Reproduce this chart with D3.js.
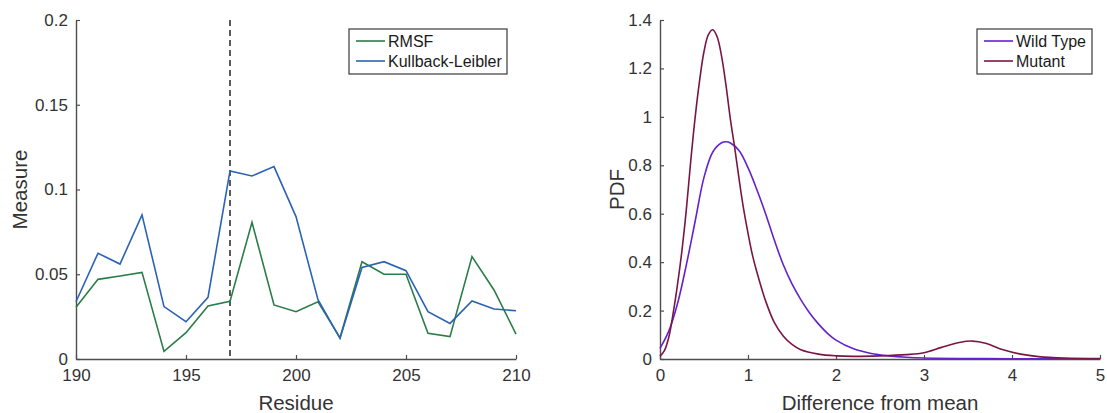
<!DOCTYPE html>
<html>
<head>
<meta charset="utf-8">
<script src="https://cdn.jsdelivr.net/npm/d3@7"></script>
<style>
  body { margin: 0; background: #fff; }
  svg text { font-family: Arial, "Liberation Sans", sans-serif; }
</style>
</head>
<body>
<div id="chart"></div>
<script>
// left panel: per-residue measures
var residues = d3.range(190, 211);
var rmsf = [0.0305, 0.047, 0.049, 0.0511, 0.0045, 0.0155, 0.0313, 0.034, 0.0806, 0.0319, 0.0279,
            0.0338, 0.0125, 0.0574, 0.050, 0.050, 0.0152, 0.0132, 0.0604, 0.0407, 0.0147];
var kullback = [0.0338, 0.0624, 0.056, 0.085, 0.0309, 0.022, 0.0364, 0.111, 0.108, 0.1135, 0.084,
                0.035, 0.0122, 0.054, 0.0574, 0.0521, 0.0279, 0.021, 0.0342, 0.0295, 0.0285];
var markedResidue = 197;
var leftYTicks = [0, 0.05, 0.1, 0.15, 0.2];
var leftXTicks = [190, 195, 200, 205, 210];

// right panel: PDFs of difference from mean
var wildX = [0, 0.1, 0.2, 0.3, 0.4, 0.5, 0.6, 0.7, 0.75, 0.8, 0.9, 1.0, 1.1, 1.2, 1.3, 1.4, 1.5,
             1.6, 1.7, 1.8, 1.9, 2.0, 2.2, 2.4, 2.6, 2.8, 3.0, 3.5, 4.0, 5.0];
var wildY = [0.044, 0.115, 0.23, 0.39, 0.57, 0.75, 0.855, 0.893, 0.897, 0.892, 0.86, 0.79, 0.70,
             0.60, 0.49, 0.39, 0.31, 0.245, 0.19, 0.145, 0.107, 0.078, 0.042, 0.023, 0.013, 0.007,
             0.004, 0.002, 0.001, 0];
var mutX = [0, 0.05, 0.1, 0.15, 0.2, 0.25, 0.3, 0.35, 0.4, 0.45, 0.5, 0.55, 0.6, 0.65, 0.7, 0.75,
            0.8, 0.85, 0.9, 0.95, 1.0, 1.05, 1.1, 1.2, 1.3, 1.4, 1.5, 1.6, 1.8, 2.0, 2.2, 2.5, 2.8,
            3.0, 3.2, 3.4, 3.55, 3.7, 3.9, 4.1, 4.3, 4.6, 5.0];
var mutY = [0.012, 0.035, 0.09, 0.19, 0.31, 0.45, 0.62, 0.82, 1.0, 1.15, 1.27, 1.34, 1.36, 1.33,
            1.25, 1.13, 0.99, 0.87, 0.74, 0.62, 0.52, 0.43, 0.36, 0.24, 0.15, 0.095, 0.06, 0.038,
            0.02, 0.013, 0.011, 0.013, 0.018, 0.026, 0.048, 0.068, 0.074, 0.065, 0.038, 0.02,
            0.01, 0.004, 0.002];
var rightYTicks = [0, 0.2, 0.4, 0.6, 0.8, 1, 1.2, 1.4];
var rightXTicks = [0, 1, 2, 3, 4, 5];

var axisColor = "#4d4d4d";
var textColor = "#333";

var svg = d3.select("#chart").append("svg")
  .attr("width", 1107)
  .attr("height", 413);

function drawAxes(g, x, y, xTicks, yTicks, xFmt, yFmt) {
  var x0 = x.range()[0];
  var y0 = y.range()[0];

  // ticks pointing inward like matlab
  var yAxis = d3.axisLeft(y).tickValues(yTicks).tickSizeInner(-4).tickSizeOuter(0).tickPadding(8).tickFormat(yFmt);
  var xAxis = d3.axisBottom(x).tickValues(xTicks).tickSizeInner(-4).tickSizeOuter(0).tickPadding(10).tickFormat(xFmt);

  var ya = g.append("g").attr("transform", "translate(" + x0 + ",0)").call(yAxis);
  var xa = g.append("g").attr("transform", "translate(0," + y0 + ")").call(xAxis);
  [ya, xa].forEach(function (a) {
    a.select(".domain").attr("stroke", axisColor).attr("stroke-width", 1.4);
    a.selectAll(".tick line").attr("stroke", axisColor).attr("stroke-width", 1.2);
    a.selectAll(".tick text").attr("fill", textColor).style("font-size", "17px");
  });
}

function drawLegend(g, x, y, w, items) {
  var box = g.append("g").attr("transform", "translate(" + x + "," + y + ")");
  box.append("rect")
    .attr("width", w).attr("height", 45)
    .attr("fill", "#fff").attr("stroke", "#3a3a3a").attr("stroke-width", 1.2);
  items.forEach(function (it, i) {
    var yy = 12 + i * 20;
    box.append("line")
      .attr("x1", 7).attr("x2", 36).attr("y1", yy).attr("y2", yy)
      .attr("stroke", it.color).attr("stroke-width", 1.6);
    box.append("text")
      .attr("x", 39).attr("y", yy).attr("dy", "0.36em")
      .attr("fill", "#1a1a1a").style("font-size", "16px")
      .text(it.label);
  });
}

// ---- left plot
var xL = d3.scaleLinear().domain([190, 210]).range([76, 516]);
var yL = d3.scaleLinear().domain([0, 0.2]).range([359, 20]);
var gL = svg.append("g");

drawAxes(gL, xL, yL, leftXTicks, leftYTicks, d3.format("d"), function (d) { return d === 0 ? "0" : String(d); });

gL.append("line")
  .attr("x1", xL(markedResidue)).attr("x2", xL(markedResidue))
  .attr("y1", yL(0.2)).attr("y2", yL(0))
  .attr("stroke", "#333").attr("stroke-width", 1.6)
  .attr("stroke-dasharray", "6,4");

var lineL = d3.line().x(function (d) { return xL(d[0]); }).y(function (d) { return yL(d[1]); });

gL.append("path")
  .datum(residues.map(function (r, i) { return [r, rmsf[i]]; }))
  .attr("d", lineL).attr("fill", "none")
  .attr("stroke", "#2a7d48").attr("stroke-width", 1.6);

gL.append("path")
  .datum(residues.map(function (r, i) { return [r, kullback[i]]; }))
  .attr("d", lineL).attr("fill", "none")
  .attr("stroke", "#2b62b5").attr("stroke-width", 1.6);

gL.append("text")
  .attr("x", xL(200)).attr("y", 403).attr("dy", "0.36em")
  .attr("text-anchor", "middle").attr("fill", textColor).style("font-size", "20.5px")
  .text("Residue");
gL.append("text")
  .attr("transform", "translate(20," + yL(0.1) + ") rotate(-90)")
  .attr("dy", "0.36em").attr("text-anchor", "middle")
  .attr("fill", textColor).style("font-size", "20.5px")
  .text("Measure");

drawLegend(gL, 349, 29, 158, [
  { label: "RMSF", color: "#2a7d48" },
  { label: "Kullback-Leibler", color: "#2b62b5" }
]);

// ---- right plot
var xR = d3.scaleLinear().domain([0, 5]).range([660, 1100]);
var yR = d3.scaleLinear().domain([0, 1.4]).range([359, 20]);
var gR = svg.append("g");

drawAxes(gR, xR, yR, rightXTicks, rightYTicks, d3.format("d"), function (d) { return String(d); });

var lineR = d3.line().curve(d3.curveCatmullRom.alpha(0.5))
  .x(function (d) { return xR(d[0]); }).y(function (d) { return yR(d[1]); });

gR.append("path")
  .datum(wildX.map(function (v, i) { return [v, wildY[i]]; }))
  .attr("d", lineR).attr("fill", "none")
  .attr("stroke", "#6522cc").attr("stroke-width", 1.6);

gR.append("path")
  .datum(mutX.map(function (v, i) { return [v, mutY[i]]; }))
  .attr("d", lineR).attr("fill", "none")
  .attr("stroke", "#7a1646").attr("stroke-width", 1.6);

gR.append("text")
  .attr("x", xR(2.5)).attr("y", 403).attr("dy", "0.36em")
  .attr("text-anchor", "middle").attr("fill", textColor).style("font-size", "20.5px")
  .text("Difference from mean");
gR.append("text")
  .attr("transform", "translate(617," + yR(0.7) + ") rotate(-90)")
  .attr("dy", "0.36em").attr("text-anchor", "middle")
  .attr("fill", textColor).style("font-size", "20.5px")
  .text("PDF");

drawLegend(gR, 977, 29, 115, [
  { label: "Wild Type", color: "#6522cc" },
  { label: "Mutant", color: "#7a1646" }
]);
</script>
</body>
</html>
